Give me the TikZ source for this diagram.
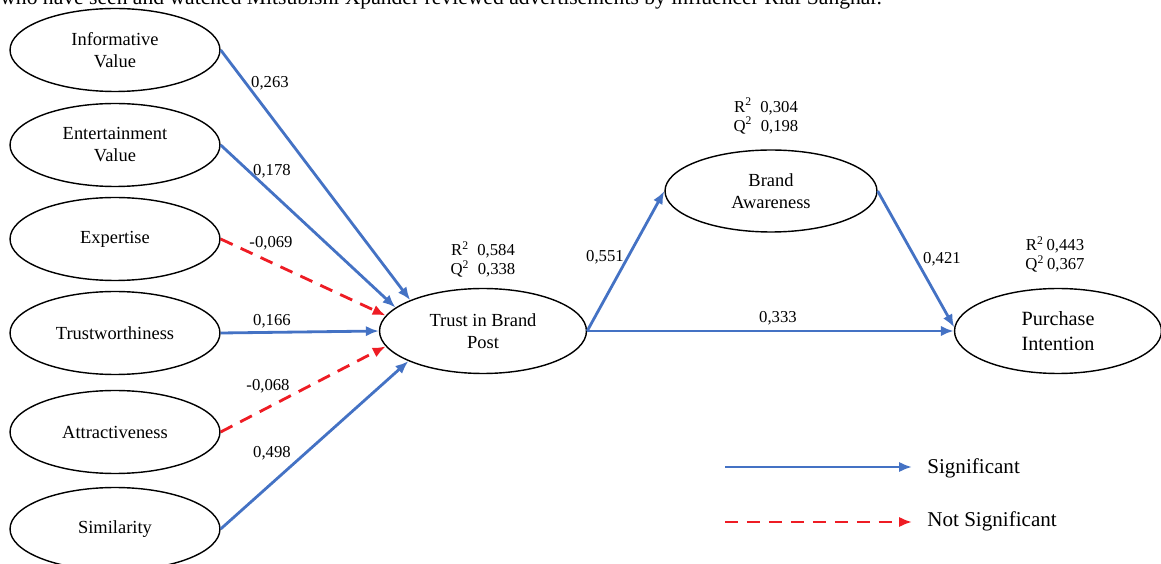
\documentclass[tikz,border=0pt]{standalone}
\usepackage{fontspec}
\setmainfont{Liberation Serif}
\usetikzlibrary{arrows.meta}
\usetikzlibrary{positioning}
\usetikzlibrary{shapes.geometric}
\definecolor{sigblue}{RGB}{68,114,196}
\definecolor{nsred}{RGB}{238,28,36}

\begin{document}
\begin{tikzpicture}
	[> = {Latex[length=2.6mm,width=2.1mm]},
	x=0.02cm, y=-0.02cm,
	var/.style = {draw, ellipse, line width=0.8pt, inner sep=0pt, minimum width=4.2cm, minimum height=1.66cm, align=center, font=\fontsize{10.5}{12.5}\selectfont},
	sig/.style = {->, color=sigblue, line width=1.6pt},
	nsig/.style = {->, color=nsred, line width=1.6pt, dash pattern=on 7.5pt off 5pt},
	coef/.style = {inner sep=0pt, font=\fontsize{9.5}{11}\selectfont},
	fitstats/.style = {inner sep=0pt, align=center, font=\fontsize{9.5}{10.8}\selectfont}
	]
	\useasboundingbox (0,0) rectangle (1161,564);
	\clip (0,0) rectangle (1161,564);

	\node[anchor=base west, inner sep=0pt, font=\fontsize{12.3}{14}\selectfont] (caption) at (0,5) {who have seen and watched Mitsubishi Xpander reviewed advertisements by influencer Riaf Sanghar.};

	% exogenous constructs
	\node[var] (info) at (115,50) {Informative\\Value};
	\node[var] (ent) at (115,145) {Entertainment\\Value};
	\node[var] (exp) at (115,239) {Expertise};
	\node[var] (trw) at (115,333) {Trustworthiness};
	\node[var] (attr) at (115,432) {Attractiveness};
	\node[var] (sim) at (115,529) {Similarity};

	% endogenous constructs
	\node[var, minimum width=4.14cm, minimum height=1.7cm] (trust) at (483,331) {Trust in Brand\\Post};
	\node[var, minimum width=4.24cm, minimum height=1.64cm] (aware) at (771,191) {Brand\\Awareness};
	\node[var, minimum width=4.14cm, minimum height=1.7cm, font=\fontsize{11.5}{14}\selectfont] (intent) at (1058,331) {Purchase\\Intention};

	\node[fitstats, above=2mm of trust] (trust fit) {R\textsuperscript{2}\ \ 0,584\\Q\textsuperscript{2}\ \ 0,338};
	\node[fitstats, above=3mm of aware, xshift=-0.1cm] (aware fit) {R\textsuperscript{2}\ \ 0,304\\Q\textsuperscript{2}\ \ 0,198};
	\node[fitstats, above=3mm of intent, xshift=-0.06cm] (intent fit) {R\textsuperscript{2}\,0,443\\Q\textsuperscript{2}\,0,367};

	% paths
	\draw[sig] (info.east) -- (trust.157);
	\draw[sig] (ent.east) -- (trust.165);
	\draw[nsig] (exp.east) -- (trust.171);
	\draw[sig] (trw.east) -- (trust.west);
	\draw[nsig] (attr.east) -- (trust.189);
	\draw[sig] (sim.east) -- (trust.202);
	\draw[sig] (trust.east) -- (aware.west);
	\draw[sig] (trust.east) -- (intent.west);
	\draw[sig] (aware.east) -- (intent.178);

	\node[coef] (c info) at (270,83) {0,263};
	\node[coef] (c ent) at (272,171) {0,178};
	\node[coef] (c exp) at (271,243) {-0,069};
	\node[coef] (c trw) at (272,321) {0,166};
	\node[coef] (c attr) at (268,386) {-0,068};
	\node[coef] (c sim) at (272,453) {0,498};
	\node[coef] (c aware) at (605,257) {0,551};
	\node[coef] (c intent) at (778,318) {0,333};
	\node[coef] (c ai) at (942,259) {0,421};

	% legend
	\coordinate (sig a) at (725,467);
	\coordinate (sig b) at (912,467);
	\coordinate (nsig a) at (725,522);
	\coordinate (nsig b) at (912,522);
	\draw[sig] (sig a) -- (sig b);
	\draw[nsig] (nsig a) -- (nsig b);
	\node[anchor=west, inner sep=0pt, font=\fontsize{12}{14}\selectfont] (sig text) at (927,468) {Significant};
	\node[anchor=west, inner sep=0pt, font=\fontsize{12}{14}\selectfont] (nsig text) at (927,521) {Not Significant};
\end{tikzpicture}
\end{document}
